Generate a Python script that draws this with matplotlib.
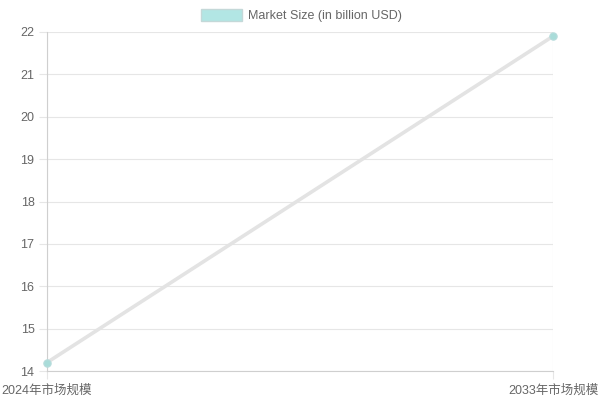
import matplotlib.pyplot as plt
from matplotlib.patches import Rectangle

plt.rcParams['font.family'] = ['Liberation Sans', 'Noto Sans CJK SC', 'DejaVu Sans']

# Data
categories = ['2024年市场规模', '2033年市场规模']
market_size = [14.2, 21.9]
series_label = 'Market Size (in billion USD)'

fig = plt.figure(figsize=(6, 4), dpi=100)
ax = fig.add_axes([47 / 600, 29 / 400, 506 / 600, 339 / 400])

x = list(range(len(categories)))
ax.plot(x, market_size, color='#e3e3e3', linewidth=2.6, zorder=2,
        solid_capstyle='round')
ax.scatter(x, market_size, s=28, color='#a9dcd9', edgecolor='#b8dcdc',
           linewidth=0.8, zorder=3, clip_on=False)

ax.set_xlim(0, 1)
ax.set_ylim(14, 22)
ax.set_yticks(range(14, 23))
ax.set_xticks(x)
ax.set_xticklabels(categories)

ax.grid(True, color='#e6e6e6', linewidth=0.8)
ax.set_axisbelow(True)
for side in ['top', 'right']:
    ax.spines[side].set_visible(False)
for side in ['left', 'bottom']:
    ax.spines[side].set_color('#cfcfcf')
    ax.spines[side].set_linewidth(0.8)
ax.tick_params(axis='both', colors='#e6e6e6', labelcolor='#666666',
               labelsize=9, length=6, width=0.8)
ax.tick_params(axis='y', pad=3)
ax.tick_params(axis='x', pad=4)

# Legend in Chart.js style
fig.patches.append(Rectangle((201 / 600, 1 - 21 / 400), 41 / 600, 12 / 400,
                             transform=fig.transFigure, facecolor='#b2e6e4',
                             edgecolor='#c4d8d8', linewidth=1.0))
fig.text(248 / 600, 1 - 15.5 / 400, series_label, color='#666666',
         fontsize=9, va='center', ha='left')

fig.savefig('out.png', dpi=100)
